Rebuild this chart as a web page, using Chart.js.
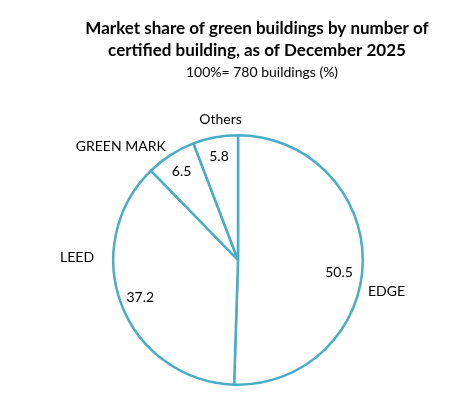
<!DOCTYPE html>
<html>
<head>
<meta charset="utf-8">
<script src="https://cdn.jsdelivr.net/npm/chart.js@4.4.1/dist/chart.umd.min.js"></script>
<style>
  html, body { margin: 0; padding: 0; background: #fff; }
  #wrap { width: 464px; height: 406px; position: relative; }
</style>
</head>
<body>
<div id="wrap"><canvas id="chart"></canvas></div>
<script>
// data
const categories = ['EDGE', 'LEED', 'GREEN MARK', 'Others'];
const shares = [50.5, 37.2, 6.5, 5.8];
const titleLines = ['Market share of green buildings by number of', 'certified building, as of December 2025'];
const subtitleText = '100%= 780 buildings (%)';

const teal = '#4bacc6';
const fontFamily = 'Lato, "Open Sans", sans-serif';

// where the category names sit, relative to the pie centre, in units of the radius
const nameOffsets = [[1.19, 0.25], [-1.29, -0.02], [-0.94, -0.91], [-0.14, -1.13]];
// small nudges for the value labels (also in radius units)
const valueNudges = [[-0.03, 0.09], [0, 0], [0, 0], [0, 0]];

// titles and slice labels drawn on the canvas
const labelPlugin = {
    id: 'labels',
    afterDraw(chart) {
        const ctx = chart.ctx;
        ctx.save();
        ctx.fillStyle = '#000';
        ctx.textAlign = 'center';
        ctx.textBaseline = 'middle';

        ctx.font = 'bold 17px ' + fontFamily;
        ctx.fillText(titleLines[0], 257, 29);
        ctx.fillText(titleLines[1], 257, 51);
        ctx.font = '14px ' + fontFamily;
        ctx.fillText(subtitleText, 262, 72);

        const arcs = chart.getDatasetMeta(0).data;
        arcs.forEach((arc, i) => {
            const p = arc.getProps(['x', 'y', 'startAngle', 'endAngle', 'outerRadius'], true);
            const mid = (p.startAngle + p.endAngle) / 2;
            const r = p.outerRadius * 0.84;
            ctx.font = '14px ' + fontFamily;
            ctx.fillText(shares[i].toFixed(1),
                p.x + Math.cos(mid) * r + valueNudges[i][0] * p.outerRadius,
                p.y + Math.sin(mid) * r + valueNudges[i][1] * p.outerRadius);
            ctx.fillText(categories[i],
                p.x + nameOffsets[i][0] * p.outerRadius,
                p.y + nameOffsets[i][1] * p.outerRadius);
        });
        ctx.restore();
    }
};

new Chart(document.querySelector('#chart').getContext('2d'), {
    type: 'pie',
    data: {
        labels: categories,
        datasets: [
            {
                data: shares,
                backgroundColor: '#ffffff',
                borderColor: teal,
                borderWidth: 2.5
            }
        ]
    },
    options: {
        responsive: true,
        maintainAspectRatio: false,
        animation: false,
        layout: {
            padding: { top: 134, bottom: 20, left: 100, right: 88 }
        },
        plugins: {
            legend: { display: false },
            title: { display: false },
            tooltip: { enabled: false }
        }
    },
    plugins: [labelPlugin]
});
</script>
</body>
</html>
